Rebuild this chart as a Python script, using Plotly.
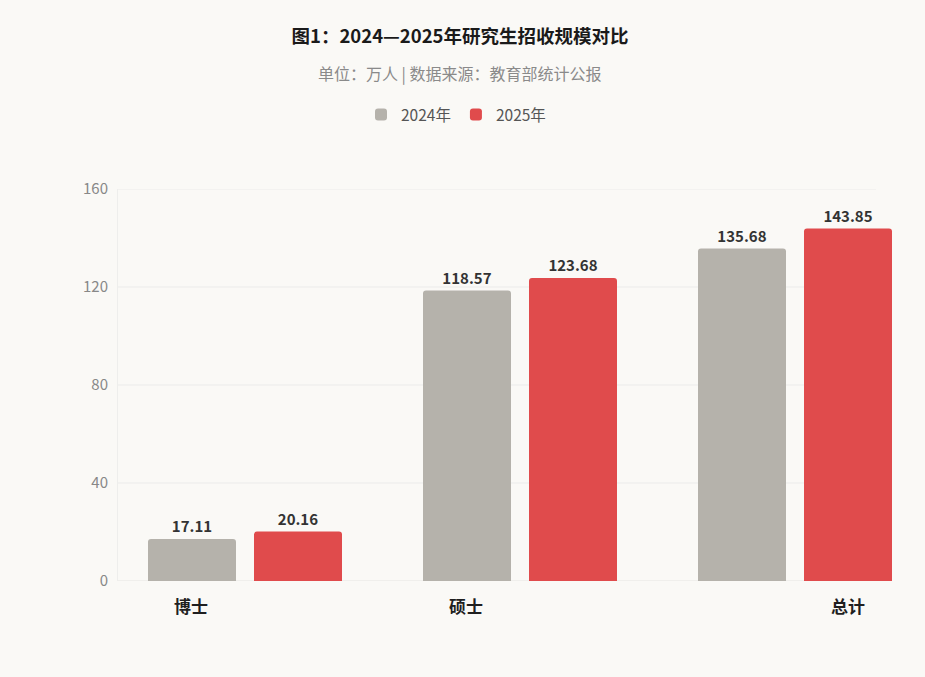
import plotly.graph_objects as go

categories = ["博士", "硕士", "总计"]
values_2024 = [17.11, 118.57, 135.68]
values_2025 = [20.16, 123.68, 143.85]
series_names = ["2024年", "2025年"]
y_ticks = [0, 40, 80, 120, 160]

FONT = "Noto Sans CJK SC, Noto Sans, sans-serif"
GRAY = "#b5b2ab"
RED = "#e04b4c"
BG = "#faf9f6"

W, H = 925, 677
ML, MR, MT, MB = 118, 25, 189, 96
PW = W - ML - MR
PH = H - MT - MB

fig = go.Figure()
for name, vals, col in [(series_names[0], values_2024, GRAY), (series_names[1], values_2025, RED)]:
    fig.add_trace(go.Bar(
        x=categories, y=vals, name=name,
        marker=dict(color=col, cornerradius=3, line=dict(width=0)),
        texttemplate="%{y:.2f}", textposition="outside",
        textfont=dict(family=FONT, size=15, color="#333333", weight="bold"),
        cliponaxis=False, hoverinfo="x+y+name",
    ))

# gridlines (end before right edge, as in reference)
grid_end = (876 - ML) / PW
for t in y_ticks:
    fig.add_shape(type="line", xref="paper", yref="y", x0=0, x1=grid_end, y0=t, y1=t,
                  line=dict(color="#ebebea" if t else "#e6e5e2", width=1), layer="below")

# category labels
shifts = [-54, -54, 53]
for c, s in zip(categories, shifts):
    fig.add_annotation(x=c, y=0, xref="x", yref="y", text=c, showarrow=False,
                       xshift=s, yshift=-10, yanchor="top",
                       font=dict(family=FONT, size=17, color="#1f1f1f", weight="bold"))

fig.add_annotation(text="单位：万人 | 数据来源：教育部统计公报", xref="paper", yref="paper",
                   x=(460 - ML) / PW, y=(H - MB - 73) / PH,
                   showarrow=False, xanchor="center", yanchor="middle",
                   font=dict(family=FONT, size=16, color="#8a8a8a"))

fig.update_layout(
    width=W, height=H, autosize=False,
    paper_bgcolor=BG, plot_bgcolor=BG,
    margin=dict(l=ML, r=MR, t=MT, b=MB),
    font=dict(family=FONT),
    title=dict(text="<b>图1：2024—2025年研究生招收规模对比</b>", x=460 / W, xanchor="center",
               y=1 - 37 / H, yanchor="middle", yref="container",
               font=dict(family=FONT, size=18.5, color="#1a1a1a")),
    legend=dict(orientation="h", x=456 / W, xanchor="center", xref="container",
                y=1 - 115 / H, yanchor="middle", yref="container",
                font=dict(family=FONT, size=15.5, color="#555555"), itemwidth=30,
                bgcolor="rgba(0,0,0,0)"),
    barmode="group", bargap=0.229, bargroupgap=0.17,
    xaxis=dict(type="category", range=[(ML - 245) / 275, (W - MR - 245) / 275],
               showticklabels=False, showgrid=False, zeroline=False, showline=False, fixedrange=True),
    yaxis=dict(range=[0, 160], tickvals=y_ticks, showgrid=False, zeroline=False,
               showline=True, linecolor="#eeeeec", linewidth=1,
               ticks="", ticklabelstandoff=6,
               tickfont=dict(family=FONT, size=15, color="#888888")),
    showlegend=True,
)

fig.write_html("out.html", config={"displayModeBar": False},
               post_script="document.body.style.margin='0';document.body.style.background='%s';" % BG)
